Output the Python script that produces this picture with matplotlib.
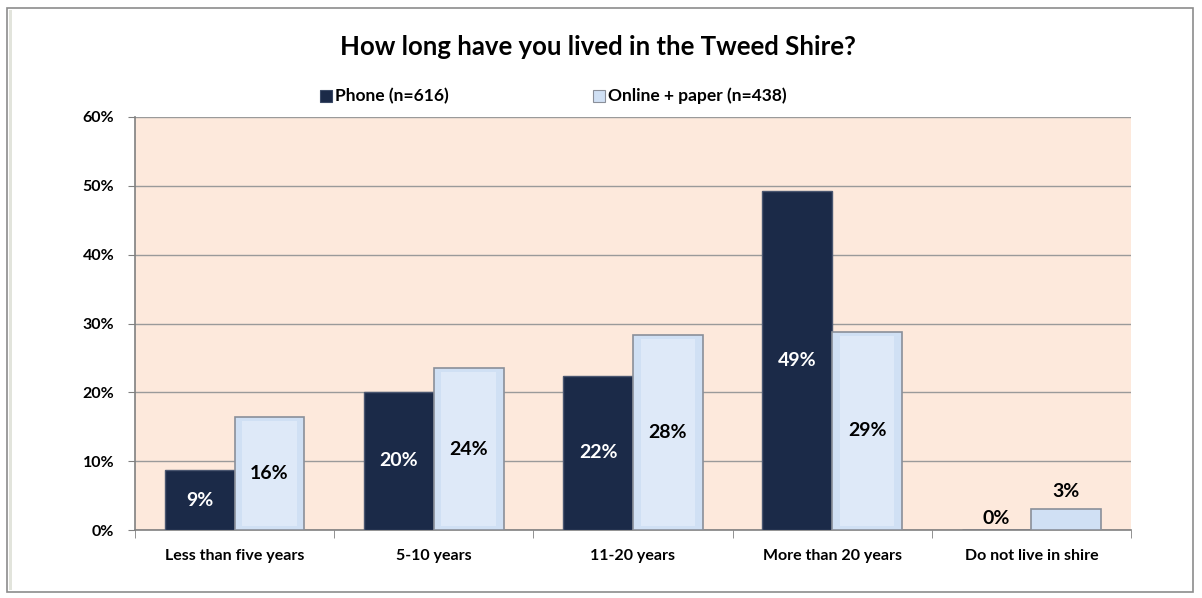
import matplotlib
matplotlib.use("Agg")
import matplotlib.pyplot as plt
from matplotlib.patches import Rectangle
import numpy as np

plt.rcParams['font.family'] = ['Lato', 'DejaVu Sans']

categories = ["Less than five years", "5-10 years", "11-20 years", "More than 20 years", "Do not live in shire"]
phone = [8.7, 20.1, 22.4, 49.2, 0.0]
online = [16.4, 23.5, 28.4, 28.8, 3.0]
series_names = ["Phone (n=616)", "Online + paper (n=438)"]
title = "How long have you lived in the Tweed Shire?"
yticks = [0, 10, 20, 30, 40, 50, 60]

phone_color = "#1B2A48"
online_color = "#D0E0F4"
bg_color = "#FDE9DC"

fig = plt.figure(figsize=(12.02, 5.98), dpi=100)
fig.patch.set_facecolor("white")

# outer frame
fig.patches.append(Rectangle((7/1202, 1-592/598), (1193-7)/1202, (592-8)/598,
                             transform=fig.transFigure, fill=False, edgecolor="#8C8C8C", lw=1.2))
fig.patches.append(Rectangle((8.5/1202, 1-590/598), 3/1202, (590-10)/598,
                             transform=fig.transFigure, facecolor="#E2E4DC", edgecolor="none"))

left, right, top, bottom = 135/1202, 1131/1202, 117/598, 530/598
ax = fig.add_axes([left, 1-bottom, right-left, bottom-top])
ax.set_facecolor(bg_color)

x = np.arange(len(categories))
w = 0.35
ax.bar(x - w/2, phone, w, color=phone_color, edgecolor="#4A5670", lw=1.0, zorder=3)
ax.bar(x + w/2, online, w, color=online_color, edgecolor="#8A8F99", lw=1.2, zorder=3)
# subtle bevel highlight on online bars
ax.bar(x + w/2, [max(v - 1.2, 0) if v > 3 else 0 for v in online], w*0.78,
       bottom=[0.6 if v > 3 else 0 for v in online], color="#DEE9F8", edgecolor="none", zorder=3)

lab_fs = 14
for i, v in enumerate(phone):
    if v < 5:
        ax.text(x[i] - w/2, v + 0.4, f"{round(v):.0f}%", ha="center", va="bottom",
                fontsize=lab_fs, fontweight="bold", color="black", zorder=4)
    else:
        ax.text(x[i] - w/2, v/2, f"{round(v):.0f}%", ha="center", va="center",
                fontsize=lab_fs, fontweight="bold", color="white", zorder=4)
for i, v in enumerate(online):
    if v < 5:
        ax.text(x[i] + w/2, v + 1.4, f"{round(v):.0f}%", ha="center", va="bottom",
                fontsize=lab_fs, fontweight="bold", color="black", zorder=4)
    else:
        ax.text(x[i] + w/2, v/2, f"{round(v):.0f}%", ha="center", va="center",
                fontsize=lab_fs, fontweight="bold", color="black", zorder=4)

ax.set_xlim(-0.5, len(categories) - 0.5)
ax.set_ylim(0, 60)
ax.set_yticks(yticks)
ax.set_yticklabels([f"{t}%" for t in yticks], fontsize=11.5, fontweight="bold")
ax.yaxis.grid(True, color="#9A9A9A", lw=1.0, zorder=1)
ax.set_axisbelow(True)
ax.set_xticks(x)
ax.set_xticklabels(categories, fontsize=11.5, fontweight="bold")
ax.set_xticks(np.arange(len(categories) + 1) - 0.5, minor=True)
ax.tick_params(axis="x", which="major", length=0, pad=14)
ax.tick_params(axis="x", which="minor", length=6, color="#808080")
ax.tick_params(axis="y", length=5, color="#808080", pad=10)
for s in ["top", "right"]:
    ax.spines[s].set_visible(False)
for s in ["left", "bottom"]:
    ax.spines[s].set_color("#808080")
    ax.spines[s].set_linewidth(1.2)

fig.text(598/1202, 1-47/598, title, ha="center", va="center", fontsize=18.5, fontweight="bold")

# legend
def legend_item(xpix, color, ec, label):
    fig.patches.append(Rectangle((xpix/1202, 1-102/598), 12/1202, 12/598,
                                 transform=fig.transFigure, facecolor=color, edgecolor=ec, lw=0.8))
    fig.text((xpix + 15)/1202, 1-96/598, label, ha="left", va="center", fontsize=12.5, fontweight="bold")

legend_item(320, phone_color, "#3B4A66", series_names[0])
legend_item(593, online_color, "#8A8F99", series_names[1])

fig.savefig("out.png", dpi=100)
